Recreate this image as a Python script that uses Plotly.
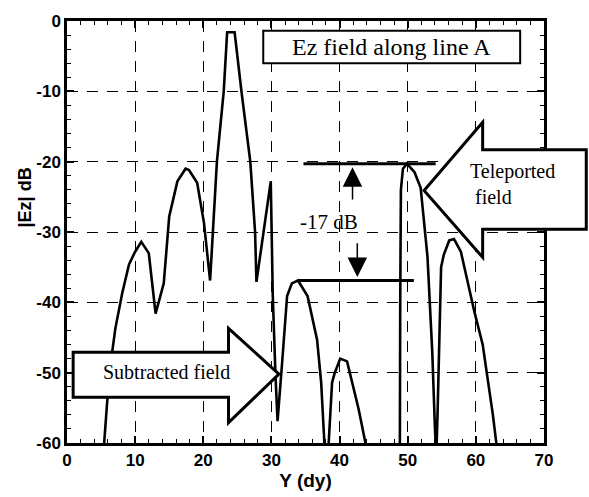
import plotly.graph_objects as go

# ---- data ----
y_dy = [5.0, 5.5, 5.9, 6.6, 7.1, 8.1, 9.1, 10.0, 10.9, 12.0, 13.0, 14.2, 15.0, 16.2,
        17.4, 17.9, 19.1, 20.1, 21.0, 22.0, 23.0, 23.5, 24.6, 25.6, 26.9, 27.6, 27.8,
        29.9, 30.2, 30.6, 30.9, 31.6, 32.3, 33.0, 33.9, 35.3, 36.7, 37.3, 37.8, 38.1,
        38.4, 38.9, 39.3, 40.1, 41.1, 42.8, 43.8, 44.5, 48.0, 48.85, 48.9, 49.0, 49.3,
        49.9, 51.0, 51.9, 52.9, 53.6, 54.0, 54.2, 54.4, 54.6, 54.9, 55.3, 56.1, 56.8,
        57.8, 59.8, 61.0, 62.5, 63.0, 63.5]
ez_db = [-66, -60, -54.1, -47.3, -43.7, -38.7, -34.6, -32.8, -31.4, -33.0, -41.6, -37.3,
         -27.8, -22.8, -21.0, -21.2, -23.0, -28.7, -36.9, -20.0, -10.0, -1.6, -1.6, -10.0,
         -20.0, -30.0, -37.1, -22.8, -39.1, -50.5, -56.9, -48.2, -39.1, -37.3, -36.9,
         -39.1, -45.3, -51.4, -60, -66, -60, -51.4, -50.0, -48.0, -48.4, -55.2, -60,
         -68, -68, -60, -40, -24, -21.0, -20.3, -21.5, -23.7, -33.5, -47, -58, -62, -55,
         -47.8, -35.0, -33.2, -31.2, -31.0, -32.8, -41.4, -46.0, -56.0, -60, -66]

x_ticks = [0, 10, 20, 30, 40, 50, 60, 70]
y_ticks = [0, -10, -20, -30, -40, -50, -60]

teleported_level = -20.3
subtracted_level = -36.9
diff_label = "-17 dB"

X_RANGE = [0, 70]
Y_RANGE = [-60, 0]

SERIF = "Liberation Serif"
SANS = "Liberation Sans"

fig = go.Figure()
fig.add_trace(go.Scatter(x=y_dy, y=ez_db, mode="lines",
                         line=dict(color="black", width=2.6), showlegend=False,
                         hoverinfo="skip"))


def to_paper(x, y):
    return ((x - X_RANGE[0]) / (X_RANGE[1] - X_RANGE[0]),
            (y - Y_RANGE[0]) / (Y_RANGE[1] - Y_RANGE[0]))


def path_from(pts):
    return "M " + " L ".join(f"{a:.4f},{b:.4f}" for a, b in pts) + " Z"


shapes = []
# reference level lines
shapes.append(dict(type="line", xref="x", yref="y", x0=34.7, x1=54.1,
                   y0=teleported_level, y1=teleported_level,
                   line=dict(color="black", width=3), layer="above"))
shapes.append(dict(type="line", xref="x", yref="y", x0=33.8, x1=50.9,
                   y0=subtracted_level, y1=subtracted_level,
                   line=dict(color="black", width=3), layer="above"))

# title box
shapes.append(dict(type="rect", xref="x", yref="y", x0=28.8, x1=66.5, y0=-1.4, y1=-6.0,
                   fillcolor="white", line=dict(color="black", width=2), layer="above"))

# "Subtracted field" block arrow (right pointing)
sub_pts = [(0.9, -47.1), (23.7, -47.1), (23.7, -43.7), (31.1, -50.2),
           (23.7, -57.1), (23.7, -53.5), (0.9, -53.5)]
shapes.append(dict(type="path", xref="paper", yref="paper",
                   path=path_from([to_paper(*p) for p in sub_pts]),
                   fillcolor="white", line=dict(color="black", width=3), layer="above"))

# "Teleported field" block arrow (left pointing), extends past right axis
tel_pts = [(52.4, -24.1), (61.0, -14.4), (61.0, -18.3), (76.2, -18.3),
           (76.2, -29.6), (61.0, -29.6), (61.0, -33.6)]
shapes.append(dict(type="path", xref="paper", yref="paper",
                   path=path_from([to_paper(*p) for p in tel_pts]),
                   fillcolor="white", line=dict(color="black", width=3), layer="above"))

annotations = [
    dict(text="Ez field along line A", x=47.6, y=-3.7, xref="x", yref="y",
         showarrow=False, font=dict(family=SERIF, size=24, color="black")),
    dict(text="Subtracted field", x=14.6, y=-49.9, xref="x", yref="y",
         showarrow=False, font=dict(family=SERIF, size=20, color="black")),
    dict(text="Teleported<br>\u00a0field", x=58.9, y=-23.2, xref="x", yref="y",
         xanchor="left", align="left",
         showarrow=False, font=dict(family=SERIF, size=20, color="black")),
    dict(text=diff_label, x=38.4, y=-28.6, xref="x", yref="y",
         showarrow=False, font=dict(family=SERIF, size=21, color="black")),
    # up / down arrows marking the difference
    dict(text="", x=41.9, y=teleported_level - 0.5, ax=41.9, ay=-25.6,
         xref="x", yref="y", axref="x", ayref="y", showarrow=True,
         arrowhead=2, arrowsize=2.6, arrowwidth=1.5, arrowcolor="black"),
    dict(text="", x=42.6, y=subtracted_level + 0.5, ax=42.6, ay=-31.4,
         xref="x", yref="y", axref="x", ayref="y", showarrow=True,
         arrowhead=2, arrowsize=2.6, arrowwidth=1.5, arrowcolor="black"),
    # y axis title
    dict(text="|Ez| dB", x=-0.088, y=0.582, xref="paper", yref="paper",
         xanchor="center", yanchor="middle",
         textangle=-90, showarrow=False,
         font=dict(family=SANS, size=18, color="black", weight="bold")),
]

axis_common = dict(
    showline=True, linecolor="black", linewidth=2.5, mirror="allticks",
    ticks="inside", ticklen=7, tickwidth=1.5, tickcolor="black",
    showgrid=True, gridcolor="black", gridwidth=1.2, griddash="11px,9px",
    zeroline=False,
    tickfont=dict(family=SANS, size=17, color="black", weight="bold"),
    minor=dict(dtick=2, ticks="inside", ticklen=4, tickwidth=1, tickcolor="black",
               showgrid=False),
)

fig.update_xaxes(range=X_RANGE, tickvals=x_ticks, ticktext=[str(v) for v in x_ticks],
                 title=dict(text="Y (dy)", standoff=2,
                            font=dict(family=SANS, size=19, color="black", weight="bold")),
                 **axis_common)
fig.update_yaxes(range=Y_RANGE, tickvals=y_ticks, ticktext=[str(v) for v in y_ticks],
                 **axis_common)

fig.update_layout(
    width=589, height=497,
    margin=dict(l=67, r=45, t=13, b=44),
    paper_bgcolor="white", plot_bgcolor="white",
    shapes=shapes, annotations=annotations,
    showlegend=False,
)

fig.write_html("out.html")
